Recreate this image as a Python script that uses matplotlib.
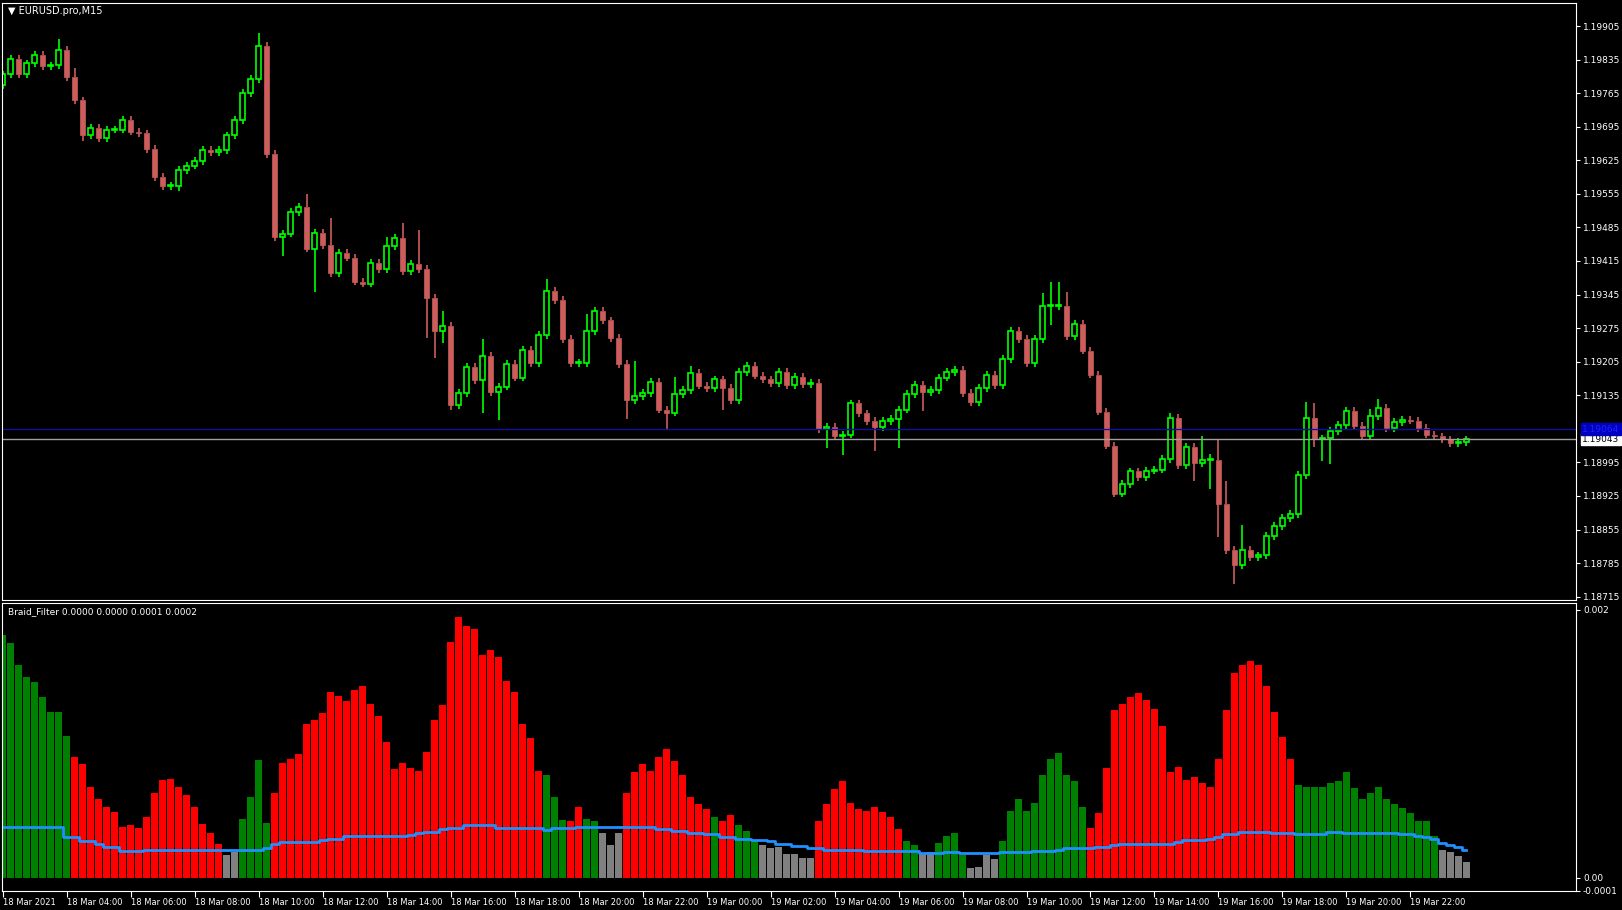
import numpy as np
import matplotlib
matplotlib.use("Agg")
import matplotlib.pyplot as plt
from matplotlib.patches import Rectangle

# EURUSD M15 closes, 18 Mar 02:00 .. 19 Mar 23:45
first_open = 1.19782
closes = [
    1.19804, 1.19836, 1.19804, 1.19827, 1.19845, 1.19821, 1.19823, 1.19855, 1.19799, 1.19750,
    1.19677, 1.19692, 1.19672, 1.19689, 1.19689, 1.19709, 1.19685, 1.19681, 1.19648, 1.19590,
    1.19571, 1.19571, 1.19605, 1.19614, 1.19623, 1.19646, 1.19642, 1.19646, 1.19677, 1.19709,
    1.19765, 1.19795, 1.19864, 1.19638, 1.19465, 1.19472, 1.19517, 1.19528, 1.19441, 1.19474,
    1.19448, 1.19390, 1.19431, 1.19422, 1.19372, 1.19368, 1.19411, 1.19398, 1.19446, 1.19463,
    1.19394, 1.19409, 1.19398, 1.19338, 1.19269, 1.19280, 1.19114, 1.19140, 1.19194, 1.19166,
    1.19217, 1.19142, 1.19153, 1.19200, 1.19172, 1.19230, 1.19202, 1.19260, 1.19353, 1.19334,
    1.19252, 1.19202, 1.19202, 1.19269, 1.19310, 1.19291, 1.19254, 1.19200, 1.19125, 1.19133,
    1.19140, 1.19163, 1.19105, 1.19099, 1.19137, 1.19146, 1.19181, 1.19155, 1.19150, 1.19168,
    1.19150, 1.19125, 1.19183, 1.19196, 1.19176, 1.19168, 1.19161, 1.19183, 1.19157, 1.19174,
    1.19159, 1.19161, 1.19064, 1.19069, 1.19051, 1.19053, 1.19118, 1.19097, 1.19081, 1.19069,
    1.19081, 1.19086, 1.19105, 1.19137, 1.19157, 1.19142, 1.19146, 1.19172, 1.19183, 1.19187,
    1.19140, 1.19120, 1.19150, 1.19178, 1.19157, 1.19211, 1.19269, 1.19252, 1.19202, 1.19252,
    1.19321, 1.19321, 1.19321, 1.19258, 1.19284, 1.19228, 1.19178, 1.19101, 1.19030, 1.18930,
    1.18950, 1.18976, 1.18965, 1.18978, 1.18980, 1.19002, 1.19088, 1.18989, 1.19028, 1.18993,
    1.19000, 1.19000, 1.18909, 1.18812, 1.18780, 1.18812, 1.18797, 1.18801, 1.18842, 1.18862,
    1.18879, 1.18887, 1.18969, 1.19088, 1.19043, 1.19045, 1.19060, 1.19073, 1.19103, 1.19071,
    1.19049, 1.19092, 1.19109, 1.19066, 1.19079, 1.19084, 1.19082, 1.19066, 1.19053, 1.19049,
    1.19043, 1.19036, 1.19038, 1.19043,
]
# wick lengths in pips beyond the body; bars not listed get the default
wick_default = 0.8
upper_wicks = {7: 2.2, 9: 1.8, 32: 2.6, 38: 2.6, 41: 5.6, 48: 2.0, 50: 3.2, 52: 7.0, 55: 3.0,
               60: 3.5, 68: 2.4, 73: 3.5, 79: 7.3, 84: 3.7, 86: 1.5, 130: 2.8, 131: 5.0,
               132: 5.0, 133: 3.0, 146: 1.0, 150: 5.0, 151: 1.2, 152: 4.3, 153: 4.7,
               155: 5.2, 163: 3.2, 164: 3.0, 171: 1.5, 172: 1.8}
lower_wicks = {10: 1.2, 22: 1.0, 35: 3.9, 39: 9.0, 53: 8.4, 54: 5.6, 55: 2.6, 56: 1.0, 60: 6.7,
               62: 5.8, 78: 4.0, 83: 3.7, 90: 4.5, 103: 4.0, 105: 4.0, 109: 5.0, 112: 6.0,
               115: 4.0, 131: 3.9, 149: 3.7, 151: 6.0, 152: 7.0, 154: 3.9, 165: 4.5,
               166: 5.4, 164: 1.5}

# Braid_Filter histogram (x 1e-4) and its signal line
hist_vals = [
    18.1, 17.5, 15.9, 15.0, 14.6, 13.5, 12.4, 12.4, 10.6, 9.0, 8.5, 6.8, 5.9, 5.3, 4.9, 3.8,
    3.9, 3.7, 4.5, 6.3, 7.3, 7.4, 6.8, 6.2, 5.3, 4.0, 3.3, 2.5, 1.7, 1.9, 4.4, 6.0,
    8.8, 4.1, 6.3, 8.6, 8.9, 9.2, 11.5, 11.8, 12.3, 13.9, 13.6, 13.2, 14.0, 14.3, 13.0, 12.1,
    10.1, 8.1, 8.6, 8.2, 8.0, 9.4, 11.8, 12.9, 17.6, 19.5, 18.8, 18.6, 16.6, 17.0, 16.5, 14.7,
    13.9, 11.5, 10.4, 8.0, 7.7, 6.0, 4.3, 4.2, 5.3, 4.4, 4.2, 3.3, 2.4, 3.3, 6.3, 7.9,
    8.5, 8.0, 9.0, 9.6, 8.7, 7.7, 6.0, 5.5, 5.1, 4.5, 4.2, 4.7, 3.9, 3.5, 2.8, 2.4,
    2.2, 2.3, 1.8, 1.8, 1.5, 1.5, 4.2, 5.5, 6.6, 7.2, 5.6, 5.1, 5.0, 5.3, 4.9, 4.5,
    3.6, 2.7, 2.4, 1.8, 1.9, 2.6, 3.1, 3.3, 1.7, 0.7, 0.8, 1.7, 1.4, 2.7, 5.0, 5.9,
    5.0, 5.6, 7.7, 8.9, 9.3, 7.7, 7.2, 5.3, 3.7, 4.8, 8.2, 12.5, 13.0, 13.5, 13.8, 13.3,
    12.6, 11.3, 7.9, 8.3, 7.3, 7.5, 7.1, 6.8, 8.9, 12.5, 15.3, 15.9, 16.2, 15.9, 14.3, 12.4,
    10.5, 8.9, 6.9, 6.8, 6.8, 6.8, 7.1, 7.2, 7.9, 6.7, 5.9, 6.3, 6.8, 5.9, 5.5, 5.2,
    4.8, 4.2, 4.2, 3.1, 2.1, 1.9, 1.6, 1.2,
]
hist_colors = ("g" * 9 + "r" * 19 + "n" * 2 + "g" * 4 + "r" * 34 + "g" * 3 + "r" * 2 + "g" * 2
               + "n" * 3 + "r" * 11 + "g" + "r" * 2 + "g" * 3 + "n" * 7 + "r" * 11 + "g" * 2
               + "n" * 2 + "g" * 4 + "n" * 4 + "g" * 11 + "r" * 26 + "g" * 18 + "n" * 4)
signal = [
    3.8, 3.8, 3.8, 3.8, 3.8, 3.8, 3.8, 3.8, 3.0, 3.0, 2.7, 2.7, 2.5, 2.3, 2.3, 2.0,
    2.0, 2.0, 2.06, 2.06, 2.06, 2.06, 2.06, 2.06, 2.06, 2.06, 2.06, 2.06, 2.06, 2.06, 2.06, 2.06,
    2.06, 2.2, 2.5, 2.66, 2.66, 2.66, 2.66, 2.66, 2.8, 2.9, 2.9, 3.1, 3.1, 3.1, 3.1, 3.1,
    3.1, 3.1, 3.1, 3.2, 3.3, 3.4, 3.4, 3.6, 3.7, 3.7, 3.9, 3.9, 3.9, 3.9, 3.7, 3.7,
    3.7, 3.7, 3.7, 3.7, 3.55, 3.7, 3.7, 3.7, 3.75, 3.75, 3.75, 3.75, 3.8, 3.8, 3.8, 3.75,
    3.75, 3.8, 3.6, 3.6, 3.5, 3.5, 3.36, 3.36, 3.26, 3.26, 3.06, 3.06, 2.9, 2.9, 2.8, 2.8,
    2.7, 2.5, 2.5, 2.36, 2.36, 2.24, 2.24, 2.1, 2.1, 2.1, 2.1, 2.1, 1.97, 1.97, 1.97, 1.97,
    1.97, 1.97, 1.97, 1.87, 1.87, 1.87, 1.94, 1.94, 1.82, 1.82, 1.82, 1.82, 1.82, 1.9, 1.9, 1.9,
    1.9, 2.0, 2.0, 2.0, 2.1, 2.24, 2.24, 2.24, 2.24, 2.3, 2.3, 2.45, 2.54, 2.54, 2.54, 2.54,
    2.54, 2.54, 2.54, 2.64, 2.8, 2.8, 2.8, 2.9, 3.06, 3.26, 3.26, 3.43, 3.43, 3.43, 3.43, 3.36,
    3.36, 3.36, 3.23, 3.23, 3.23, 3.23, 3.38, 3.38, 3.3, 3.3, 3.3, 3.3, 3.3, 3.3, 3.3, 3.23,
    3.23, 3.1, 3.0, 2.86, 2.6, 2.44, 2.26, 2.1,
]

price_ticks = [1.19905, 1.19835, 1.19765, 1.19695, 1.19625, 1.19555, 1.19485, 1.19415, 1.19345,
               1.19275, 1.19205, 1.19135, 1.18995, 1.18925, 1.18855, 1.18785, 1.18715]
bid_line = 1.19043
ask_line = 1.19064
time_labels = ["18 Mar 2021", "18 Mar 04:00", "18 Mar 06:00", "18 Mar 08:00", "18 Mar 10:00",
               "18 Mar 12:00", "18 Mar 14:00", "18 Mar 16:00", "18 Mar 18:00", "18 Mar 20:00",
               "18 Mar 22:00", "19 Mar 00:00", "19 Mar 02:00", "19 Mar 04:00", "19 Mar 06:00",
               "19 Mar 08:00", "19 Mar 10:00", "19 Mar 12:00", "19 Mar 14:00", "19 Mar 16:00",
               "19 Mar 18:00", "19 Mar 20:00", "19 Mar 22:00"]

W, H = 1622, 910
fig = plt.figure(figsize=(W / 100, H / 100), dpi=100, facecolor="black")

def frac(x0, y0, x1, y1):
    return [x0 / W, 1 - y1 / H, (x1 - x0) / W, (y1 - y0) / H]

ax = fig.add_axes(frac(2, 3, 1576, 600), facecolor="black")
ax2 = fig.add_axes(frac(2, 603, 1576, 891), facecolor="black")
xl = (-0.09, 196.7)

n = len(closes)
opens = [first_open] + closes[:-1]
pip = 0.0001
for i in range(n):
    o, c = opens[i], closes[i]
    top, bot = max(o, c), min(o, c)
    hi = top + upper_wicks.get(i, wick_default) * pip
    lo = bot - lower_wicks.get(i, wick_default) * pip
    up = c >= o
    col = "#00ff00" if up else "#cd5c5c"
    ax.plot([i, i], [top, hi], color=col, lw=1.2, solid_capstyle="butt")
    ax.plot([i, i], [lo, bot], color=col, lw=1.2, solid_capstyle="butt")
    h = max(top - bot, 0.000015)
    if up:
        ax.add_patch(Rectangle((i - 0.28, bot), 0.56, h, facecolor="black", edgecolor=col, lw=1.2))
    else:
        ax.add_patch(Rectangle((i - 0.3, bot), 0.6, h, facecolor=col, edgecolor=col, lw=0.5))

ax.axhline(ask_line, color="#1010a0", lw=1)
ax.axhline(bid_line, color="#a0a0a0", lw=1)
ax.set_xlim(*xl)
ax.set_ylim(1.18708, 1.19953)
ax.set_xticks([])
ax.yaxis.tick_right()
ax.set_yticks(price_ticks)
ax.set_yticklabels([f"{t:.5f}" for t in price_ticks])
ax.tick_params(axis="y", colors="white", labelsize=6.5, length=3, pad=2)
for s in ax.spines.values():
    s.set_color("white")
ax.text(0.004, 0.995, "\u25bc EURUSD.pro,M15", transform=ax.transAxes, color="white",
        fontsize=7, va="top", ha="left")
ax.text(1.004, bid_line, f"{bid_line:.5f}", transform=ax.get_yaxis_transform(), color="black",
        fontsize=6.5, va="center", ha="left", bbox=dict(boxstyle="square,pad=0.15", fc="white", ec="white"))
ax.text(1.004, ask_line, f"{ask_line:.5f}", transform=ax.get_yaxis_transform(), color="#2020ff",
        fontsize=6.5, va="center", ha="left", bbox=dict(boxstyle="square,pad=0.15", fc="#0000c0", ec="#0000c0"))

cmap = {"g": "#008000", "r": "#ff0000", "n": "#808080"}
xs = np.arange(len(hist_vals))
ax2.bar(xs, np.array(hist_vals) * 1e-4, width=0.85, color=[cmap[c] for c in hist_colors])
ax2.step(xs, np.array(signal) * 1e-4, where="mid", color="#1e90ff", lw=2)
ax2.set_xlim(*xl)
ax2.set_ylim(-0.000097, 0.002052)
ax2.yaxis.tick_right()
ax2.set_yticks([0.002, 0.0, -0.0001])
ax2.set_yticklabels(["0.002", "0.00", "-0.0001"])
ax2.tick_params(axis="y", colors="white", labelsize=6.5, length=3, pad=2)
ax2.set_xticks(np.arange(0, 8 * len(time_labels), 8))
ax2.set_xticklabels(time_labels, ha="left")
ax2.tick_params(axis="x", colors="white", labelsize=6, length=4, pad=1)
for s in ax2.spines.values():
    s.set_color("white")
ax2.text(0.004, 0.985, "Braid_Filter 0.0000 0.0000 0.0001 0.0002", transform=ax2.transAxes,
         color="white", fontsize=6.5, va="top", ha="left")

fig.savefig("out.png", dpi=100, facecolor="black")
